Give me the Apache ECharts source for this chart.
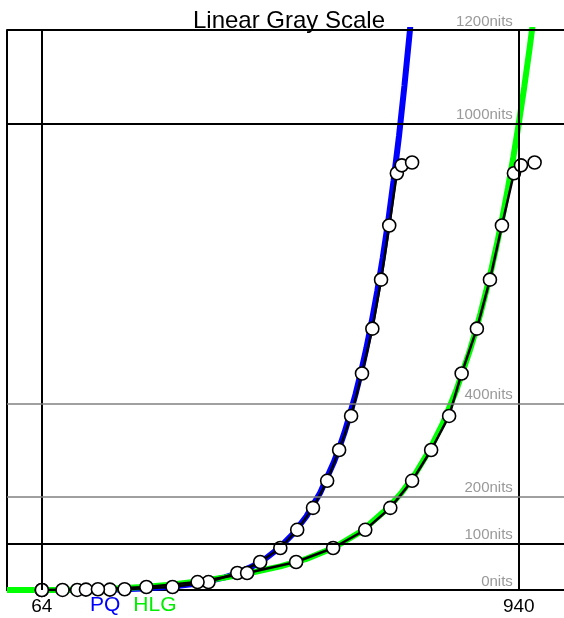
<!DOCTYPE html>
<html><head><meta charset="utf-8">
<script src="https://cdn.jsdelivr.net/npm/echarts@6/dist/echarts.min.js"></script>
<style>html,body{margin:0;padding:0;background:#fff}#c{width:564px;height:618px}</style>
</head><body><div id="c"></div>
<script>
// Theoretical curves (code value -> nits)
const pqCurveCodes = [0, 64, 100, 150, 200, 250, 300, 350, 400, 425, 450, 475, 500, 525, 550, 575, 600, 610, 620, 630, 640, 650, 660, 670, 680, 690, 700, 710, 720, 730, 740, 750];
const pqCurveNits  = [0, 0, 0.04, 0.31, 1.11, 2.95, 6.73, 13.9, 27.1, 37.0, 50.2, 67.5, 90.2, 120, 158, 208, 273, 304, 338, 377, 419, 466, 518, 576, 640, 711, 789, 877, 973, 1081, 1199, 1332];
const hlgCurveCodes = [0, 64, 100, 150, 200, 250, 300, 350, 400, 450, 502, 550, 600, 650, 700, 725, 750, 775, 800, 825, 850, 860, 870, 880, 890, 900, 910, 920, 930, 940, 950, 960, 970];
const hlgCurveNits  = [0, 0, 0.13, 1.02, 3.06, 6.49, 11.5, 18.2, 26.8, 37.4, 50.7, 66.7, 90.6, 125, 176, 209, 249, 298, 356, 427, 513, 552, 594, 640, 689, 742, 799, 861, 928, 1000, 1078, 1162, 1252];
// Measured gray-scale patches (same luminance levels for both)
const markerNits     = [0, 0.14, 0.87, 1.65, 6.4, 17, 36.5, 60, 90, 129, 176, 234, 300, 373, 464, 560, 665, 781, 893, 910, 916];
const pqMarkerCodes  = [64, 129, 189, 216, 304, 370, 423, 465, 502, 533, 562, 588, 610, 632, 652, 671, 687, 702, 716, 725, 744];
const hlgMarkerCodes = [64, 102, 145, 167, 256, 350, 441, 531, 599, 658, 704, 744, 779, 812, 835, 863, 887, 909, 931, 944, 969];
// Reference lines and labels
const xTickValues = [64, 940];
const nitLevels = [0, 100, 200, 400, 1000, 1200];
const strongNitLines = [100, 1000, 1200];
const thinNitLines = [200, 400];

const zip = (a, b) => a.map((v, i) => [v, b[i]]);
const FONT = '"Liberation Sans", Arial, sans-serif';

const markData = [];
xTickValues.forEach(v => markData.push({xAxis: v, lineStyle: {color: '#000', width: 2, type: 'solid'}}));
strongNitLines.forEach(v => markData.push({yAxis: v, lineStyle: {color: '#000', width: 2, type: 'solid'}}));
thinNitLines.forEach(v => markData.push({yAxis: v, lineStyle: {color: '#808080', width: 1.5, type: 'solid'}}));

const chart = echarts.init(document.getElementById('c'), null, {renderer: 'canvas'});
chart.setOption({
  animation: false,
  backgroundColor: '#fff',
  textStyle: {fontFamily: FONT},
  title: {
    text: 'Linear Gray Scale', left: 284, textAlign: 'center', top: 4,
    textStyle: {fontSize: 24, fontWeight: 'normal', color: '#000', fontFamily: FONT}
  },
  legend: {
    left: 85, top: 595, padding: 0, itemWidth: 0, itemHeight: 0, itemGap: 8,
    icon: 'none', selectedMode: false,
    textStyle: {fontSize: 21, fontFamily: FONT},
    data: [
      {name: 'PQ', icon: 'none', textStyle: {color: '#0000ff'}},
      {name: 'HLG', icon: 'none', textStyle: {color: '#00ee00'}}
    ]
  },
  grid: {left: 7, top: 30, width: 558, height: 560, containLabel: false},
  xAxis: {
    type: 'value', min: 0, max: 1023,
    axisLine: {show: true, onZero: false, lineStyle: {color: '#000', width: 2}},
    axisTick: {show: false},
    splitLine: {show: false},
    axisLabel: {show: true, customValues: xTickValues, margin: 7, fontSize: 19, color: '#000', fontFamily: FONT}
  },
  yAxis: {
    type: 'value', min: 0, max: 1200,
    axisLine: {show: true, onZero: false, lineStyle: {color: '#000', width: 2}},
    axisTick: {show: false}, splitLine: {show: false}, axisLabel: {show: false}
  },
  series: [
    {
      name: 'frame', type: 'line', data: [], z: 1, silent: true,
      markLine: {silent: true, symbol: 'none', label: {show: false}, animation: false, data: markData}
    },
    {
      name: 'PQ', type: 'line', data: zip(pqCurveCodes, pqCurveNits), z: 2,
      showSymbol: false, symbol: 'none', smooth: false,
      color: '#0000ff', lineStyle: {color: '#0000ff', width: 6}
    },
    {
      name: 'HLG', type: 'line', data: zip(hlgCurveCodes, hlgCurveNits), z: 3,
      showSymbol: false, symbol: 'none', smooth: false,
      color: '#00ff00', lineStyle: {color: '#00ff00', width: 6}
    },
    {
      name: 'PQ measured', type: 'line', data: zip(pqMarkerCodes, markerNits), z: 4,
      symbol: 'circle', symbolSize: 13,
      lineStyle: {color: '#000', width: 2.5},
      itemStyle: {color: '#fff', borderColor: '#000', borderWidth: 1.6}
    },
    {
      name: 'HLG measured', type: 'line', data: zip(hlgMarkerCodes, markerNits), z: 4,
      symbol: 'circle', symbolSize: 13,
      lineStyle: {color: '#000', width: 2.5},
      itemStyle: {color: '#fff', borderColor: '#000', borderWidth: 1.6}
    },
    {
      name: 'nit labels', type: 'scatter', z: 5, silent: true, clip: false,
      symbolSize: 0,
      data: nitLevels.map(v => [929, v]),
      label: {
        show: true, position: [0, -1], align: 'right', verticalAlign: 'bottom',
        fontSize: 15, color: '#808080', fontFamily: FONT,
        formatter: p => p.value[1] + 'nits'
      }
    }
  ]
});
</script>
</body></html>
